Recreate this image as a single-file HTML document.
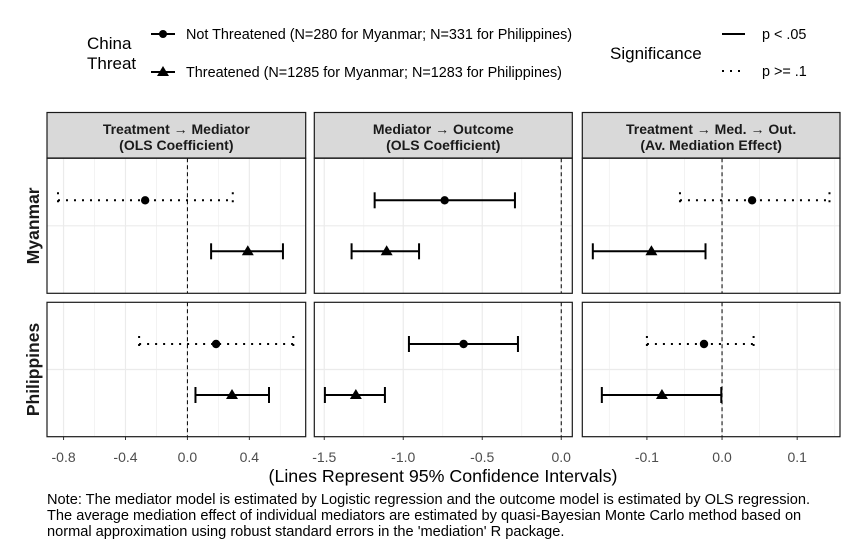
<!DOCTYPE html>
<html><head><meta charset="utf-8"><style>
body{margin:0;background:#fff;}
svg{display:block;font-family:"Liberation Sans",Arial,sans-serif;}
</style></head><body>
<svg id="chart" width="850" height="550" viewBox="0 0 850 550" xmlns="http://www.w3.org/2000/svg">
<g>
<text x="87" y="49" font-size="17">China</text>
<text x="87" y="69" font-size="17">Threat</text>
<g>
<line x1="151" y1="34" x2="175" y2="34" stroke="#000" stroke-width="2"/>
<circle cx="163" cy="34" r="4" fill="#000"/>
<text x="186" y="39" font-size="14.4">Not Threatened (N=280 for Myanmar; N=331 for Philippines)</text></g>
<g>
<line x1="151" y1="72" x2="175" y2="72" stroke="#000" stroke-width="2"/>
<polygon points="163,66 169,76 157,76" fill="#000"/>
<text x="186" y="77" font-size="14.4">Threatened (N=1285 for Myanmar; N=1283 for Philippines)</text></g>
</g>
<g>
<text x="610" y="59" font-size="17">Significance</text>
<g>
<line x1="722" y1="34" x2="745" y2="34" stroke="#000" stroke-width="2"/>
<text x="762" y="39" font-size="14.4">p &lt; .05</text></g>
<g>
<line x1="722" y1="71" x2="745" y2="71" stroke="#000" stroke-width="2" stroke-dasharray="2,6"/>
<text x="762" y="76" font-size="14.4">p &gt;= .1</text></g>
</g>
<g id="panels"></g>
<text x="443" y="482" font-size="17.8" text-anchor="middle">(Lines Represent 95% Confidence Intervals)</text>
<g font-size="14.6">
<text x="47" y="504">Note: The mediator model is estimated by Logistic regression and the outcome model is estimated by OLS regression.</text>
<text x="47" y="520">The average mediation effect of individual mediators are estimated by quasi-Bayesian Monte Carlo method based on</text>
<text x="47" y="536">normal approximation using robust standard errors in the 'mediation' R package.</text>
</g>
</svg>
<script>
// data arrays: [Myanmar NT, Myanmar T, Philippines NT, Philippines T]
const countries = ["Myanmar", "Philippines"];
const groups = ["Not Threatened", "Threatened"];
const panelTitles = [["Treatment \u2192 Mediator","(OLS Coefficient)"],["Mediator \u2192 Outcome","(OLS Coefficient)"],["Treatment \u2192 Med. \u2192 Out.","(Av. Mediation Effect)"]];
const est1 = [-0.273, 0.39, 0.185, 0.288];
const lo1 = [-0.836, 0.153, -0.312, 0.052];
const hi1 = [0.293, 0.617, 0.684, 0.527];
const sig1 = [false, true, false, true];
const est2 = [-0.738, -1.105, -0.618, -1.30];
const lo2 = [-1.181, -1.327, -0.964, -1.496];
const hi2 = [-0.293, -0.90, -0.274, -1.116];
const sig2 = [true, true, true, true];
const est3 = [0.040, -0.094, -0.024, -0.080];
const lo3 = [-0.056, -0.172, -0.100, -0.160];
const hi3 = [0.143, -0.022, 0.042, -0.001];
const sig3 = [false, true, false, true];
const ticks1 = [-0.8, -0.4, 0.0, 0.4];
const ticks2 = [-1.5, -1.0, -0.5, 0.0];
const ticks3 = [-0.1, 0.0, 0.1];
const tickLabels1 = ["-0.8","-0.4","0.0","0.4"];
const tickLabels2 = ["-1.5","-1.0","-0.5","0.0"];
const tickLabels3 = ["-0.1","0.0","0.1"];
const minor1 = [-0.6,-0.2,0.2,0.6];
const minor2 = [-1.25,-0.75,-0.25];
const minor3 = [-0.15,-0.05,0.05,0.15];

const NS = "http://www.w3.org/2000/svg";
const root = document.getElementById("panels");
function mk(tag, attrs, parent){const e=document.createElementNS(NS,tag);for(const k in attrs)e.setAttribute(k,attrs[k]);(parent||root).appendChild(e);return e;}

const layout = [
 {x0:47, x1:305.7, dmin:-0.907, dmax:0.764},
 {x0:314.3, x1:572.3, dmin:-1.563, dmax:0.070},
 {x0:582.3, x1:840, dmin:-0.186, dmax:0.157}
];
const rowsY = [[158.3,293.3],[302.3,436.7]];
const data = [[est1,lo1,hi1,sig1,ticks1,tickLabels1,minor1],[est2,lo2,hi2,sig2,ticks2,tickLabels2,minor2],[est3,lo3,hi3,sig3,ticks3,tickLabels3,minor3]];

layout.forEach((L,p)=>{
  const sx = v => L.x0 + (v - L.dmin)/(L.dmax - L.dmin)*(L.x1-L.x0);
  const [est,lo,hi,sig,ticks,tl,minor] = data[p];
  const strip = mk("g",{});
  
  
  mk("rect",{x:L.x0,y:112.5,width:L.x1-L.x0,height:45.5,fill:"#d9d9d9",stroke:"#1a1a1a","stroke-width":1.2},strip);
  const cx=(L.x0+L.x1)/2;
  mk("text",{x:cx,y:134,"font-size":14,"font-weight":"bold","text-anchor":"middle",fill:"#1a1a1a"},strip).textContent=panelTitles[p][0];
  mk("text",{x:cx,y:150,"font-size":14,"font-weight":"bold","text-anchor":"middle",fill:"#1a1a1a"},strip).textContent=panelTitles[p][1];
  ticks.forEach((t,i)=>{
    const tx = mk("text",{x:sx(t),y:462,"font-size":14,"text-anchor":"middle",fill:"#4d4d4d"});
    
    
    tx.textContent = tl[i];
    mk("line",{x1:sx(t),x2:sx(t),y1:436.7,y2:440,stroke:"#333","stroke-width":1});
  });
  countries.forEach((c,r)=>{
    const [y0,y1]=rowsY[r];
    const g = mk("g",{});
    
    
    mk("rect",{x:L.x0,y:y0,width:L.x1-L.x0,height:y1-y0,fill:"#fff"},g);
    minor.forEach(t=>mk("line",{x1:sx(t),x2:sx(t),y1:y0,y2:y1,stroke:"#f0f0f0","stroke-width":0.8},g));
    ticks.forEach(t=>mk("line",{x1:sx(t),x2:sx(t),y1:y0,y2:y1,stroke:"#ebebeb","stroke-width":1.2},g));
    const mid=(y0+y1)/2;
    mk("line",{x1:L.x0,x2:L.x1,y1:mid,y2:mid,stroke:"#ebebeb","stroke-width":1.2},g);
    mk("line",{x1:sx(0),x2:sx(0),y1:y0,y2:y1,stroke:"#000","stroke-width":1,"stroke-dasharray":"4,3"},g);
    groups.forEach((gr,k)=>{
      const i = r*2+k;
      const y = mid + (k===0?-25.5:25.5);
      const eb = mk("g",{},g);
      
      
      const dash = sig[i]?{}:{"stroke-dasharray":"2,6"};
      mk("line",Object.assign({x1:sx(lo[i]),x2:sx(hi[i]),y1:y,y2:y,stroke:"#000","stroke-width":2},dash),eb);
      mk("line",Object.assign({x1:sx(lo[i]),x2:sx(lo[i]),y1:y-8,y2:y+8,stroke:"#000","stroke-width":2},dash),eb);
      mk("line",Object.assign({x1:sx(hi[i]),x2:sx(hi[i]),y1:y-8,y2:y+8,stroke:"#000","stroke-width":2},dash),eb);
      const px=sx(est[i]);
      if(k===0) mk("circle",{cx:px,cy:y,r:4.2,fill:"#000"},eb);
      else mk("polygon",{points:`${px},${y-6} ${px+6},${y+4} ${px-6},${y+4}`,fill:"#000"},eb);
    });
    mk("rect",{x:L.x0,y:y0,width:L.x1-L.x0,height:y1-y0,fill:"none",stroke:"#1a1a1a","stroke-width":1.2},g);
  });
});
countries.forEach((c,r)=>{
  const mid=(rowsY[r][0]+rowsY[r][1])/2;
  const t = mk("text",{x:0,y:0,"font-size":17.5,"font-weight":"bold","text-anchor":"middle",transform:`translate(39,${mid}) rotate(-90)`,fill:"#1a1a1a"});
  
  
  t.textContent=c;
});
</script>
</body></html>
